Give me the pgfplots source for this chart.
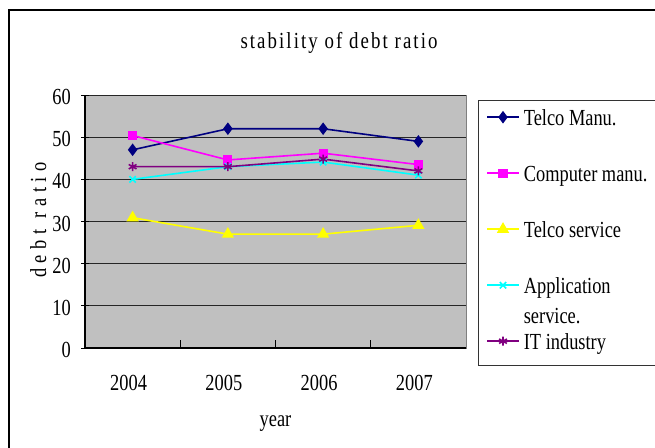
\documentclass[border=0pt]{standalone}
\usepackage{pgfplots}
\pgfplotsset{compat=1.18}
\usepackage{fontspec}
\setmainfont{Liberation Serif}[FakeStretch=0.8]
\newfontfamily\titlefont{Liberation Serif}[FakeStretch=0.82,LetterSpace=9]
\newfontfamily\ylabfont{Liberation Serif}[FakeStretch=0.8,LetterSpace=25]
\definecolor{bg}{RGB}{192,192,192}
\definecolor{navy}{RGB}{0,0,128}
\definecolor{mag}{RGB}{255,0,255}
\definecolor{yel}{RGB}{255,255,0}
\definecolor{cya}{RGB}{0,255,255}
\definecolor{pur}{RGB}{128,0,128}
\begin{document}
\begin{tikzpicture}
\useasboundingbox (0,0) rectangle (655bp,-448bp);
\clip (0,0) rectangle (655bp,-448bp);
\fill[white] (0,0) rectangle (655bp,-448bp);
\draw[line width=1.5bp] (9bp,-10bp) rectangle (700bp,-500bp);
\node[anchor=base, inner sep=0pt, font=\titlefont\fontsize{23bp}{30bp}\selectfont] at (339bp,-48bp) {stability of debt ratio};
\begin{axis}[
  at={(85bp,-348bp)}, anchor=south west,
  scale only axis, width=381bp, height=253bp,
  xmin=-0.5, xmax=3.5, ymin=0, ymax=60,
  font=\fontsize{23bp}{30bp}\selectfont,
  /pgf/number format/assume math mode=true,
  axis background/.style={fill=bg, draw=gray, line width=1bp},
  axis x line*=bottom, axis y line*=left,
  axis line style={black, line width=1.2bp},
  ytick={0,10,...,60},
  ymajorgrids, major grid style={black!85, line width=0.9bp},
  xtick={0.5,1.5,2.5}, xticklabels={},
  extra x ticks={0,1,2,3}, extra x tick labels={2004,2005,2006,2007},
  extra x tick style={major tick length=0pt, grid=none},
  tick align=inside, major tick length=8bp,
  tick style={black, line width=1bp},
  ytick style={xshift=-4bp},
  yticklabel style={inner sep=0pt, anchor=east, xshift=-14bp, yshift=-2bp},
  xticklabel style={inner sep=0pt, anchor=north, yshift=-27bp, xshift=-4bp},
  tick label style={font=\fontsize{23bp}{30bp}\selectfont},
  xlabel={year},
  xlabel style={at={(axis description cs:0.5,-0.312)}, anchor=base, inner sep=0pt},
  ylabel={\ylabfont debt ratio},
  ylabel style={at={(axis description cs:-0.123,0.506)}, anchor=center, inner sep=0pt},
  legend cell align=left,
  legend image code/.code={\draw[mark repeat=2,mark phase=2] plot coordinates {(0bp,0bp)(16bp,0bp)(32bp,0bp)};},
  legend style={at={(axis description cs:1.0525,0.9644)}, anchor=north west,
    draw=none, fill=none, inner sep=0pt, row sep=30bp, column sep=4bp,
    nodes={inner sep=0pt, text height=21bp, text depth=5bp},
    font=\fontsize{23bp}{30bp}\selectfont},
]
\addplot[color=navy, line width=1.6bp, mark=diamond*, mark size=5bp] coordinates {(0,47)(1,52)(2,52)(3,49)};
\addlegendentry{Telco Manu.}
\addplot[color=mag, line width=1.6bp, mark=square*, mark size=3.8bp] coordinates {(0,50.4)(1,44.6)(2,46.2)(3,43.5)};
\addlegendentry{Computer manu.}
\addplot[color=yel, line width=1.6bp, mark=triangle*, mark size=5.5bp] coordinates {(0,30.9)(1,27)(2,27)(3,29.1)};
\addlegendentry{Telco service}
\addplot[color=cya, line width=1.6bp, mark=x, mark size=4.5bp] coordinates {(0,40)(1,43)(2,44.1)(3,41)};
\addlegendentry{{\raisebox{0pt}[\height][0pt]{\begin{tabular}[t]{@{}l@{}}Application\\service.\end{tabular}}}}
\addplot[color=pur, line width=1.6bp, mark=asterisk, mark size=4.5bp] coordinates {(0,43)(1,43)(2,44.8)(3,42)};
\addlegendentry{IT industry}
\end{axis}
\draw[black!80, line width=1bp] (478bp,-100bp) rectangle (700bp,-365bp);
\end{tikzpicture}
\end{document}
